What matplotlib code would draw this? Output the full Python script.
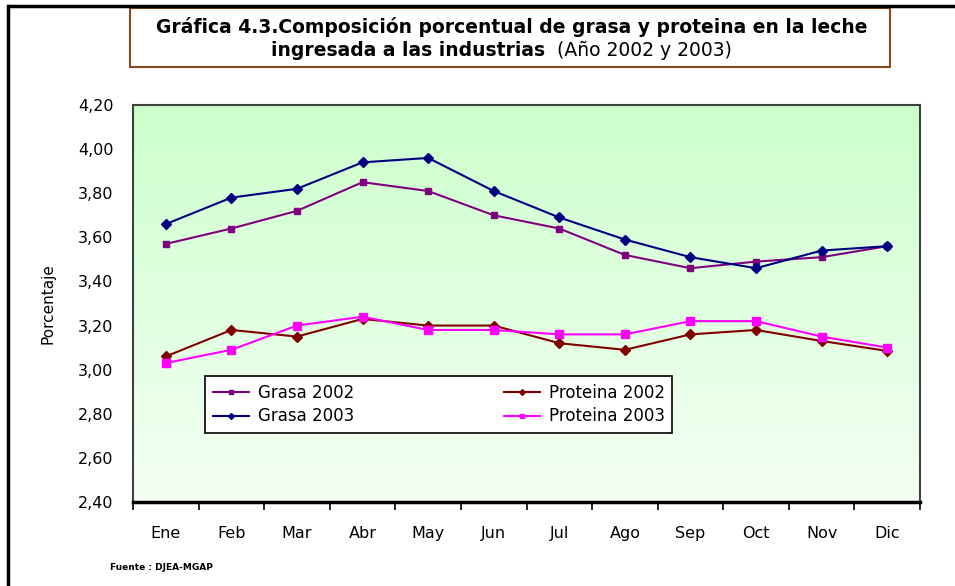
import matplotlib
matplotlib.use("Agg")
import matplotlib.pyplot as plt
import numpy as np
from matplotlib.patches import Rectangle
from matplotlib.lines import Line2D
from matplotlib.colors import LinearSegmentedColormap

months = ["Ene", "Feb", "Mar", "Abr", "May", "Jun", "Jul", "Ago", "Sep", "Oct", "Nov", "Dic"]
grasa_2002 = [3.57, 3.64, 3.72, 3.85, 3.81, 3.70, 3.64, 3.52, 3.46, 3.49, 3.51, 3.56]
grasa_2003 = [3.66, 3.78, 3.82, 3.94, 3.96, 3.81, 3.69, 3.59, 3.51, 3.46, 3.54, 3.56]
proteina_2002 = [3.06, 3.18, 3.15, 3.23, 3.20, 3.20, 3.12, 3.09, 3.16, 3.18, 3.13, 3.085]
proteina_2003 = [3.03, 3.09, 3.20, 3.24, 3.18, 3.18, 3.16, 3.16, 3.22, 3.22, 3.15, 3.10]
yticks = [2.40, 2.60, 2.80, 3.00, 3.20, 3.40, 3.60, 3.80, 4.00, 4.20]

W, H = 955, 586
fig = plt.figure(figsize=(W / 100, H / 100), dpi=100)
fig.patch.set_facecolor("white")

# outer frame lines (top and left)
fig.add_artist(Line2D([8 / W, 1.0], [1 - 6 / H, 1 - 6 / H], color="black", lw=2.5,
                      solid_capstyle="butt", transform=fig.transFigure))
fig.add_artist(Line2D([8 / W, 8 / W], [0.0, 1 - 6 / H], color="black", lw=2.5,
                      solid_capstyle="projecting", transform=fig.transFigure))

# title box
bx0, bx1, by0, by1 = 130, 890, 8, 67
fig.add_artist(Rectangle((bx0 / W, 1 - by1 / H), (bx1 - bx0) / W, (by1 - by0) / H,
                         transform=fig.transFigure, facecolor="white", edgecolor="#8B4A1C", lw=1.5))
fig.text(512 / W, 1 - 27 / H, "Gráfica 4.3.Composición porcentual de grasa y proteina en la leche",
         ha="center", va="center", fontsize=13.5, fontweight="bold")
fig.text(545 / W, 1 - 50 / H, "ingresada a las industrias",
         ha="right", va="center", fontsize=13.5, fontweight="bold")
fig.text(557 / W, 1 - 50 / H, "(Año 2002 y 2003)",
         ha="left", va="center", fontsize=13.5)

left, right, top, bottom = 133, 920, 105, 502
ax = fig.add_axes([left / W, 1 - bottom / H, (right - left) / W, (bottom - top) / H])

x = np.arange(len(months))
grad = np.linspace(0, 1, 256).reshape(-1, 1)
cmap = LinearSegmentedColormap.from_list("g", ["#F4FFF4", "#CCFFCC"])
ax.imshow(grad, extent=[0, 1, 0, 1], transform=ax.transAxes, cmap=cmap, origin="lower",
          aspect="auto", zorder=0)

ax.plot(x, grasa_2002, color="#800080", marker="s", ms=4, lw=1.5, label="Grasa 2002", zorder=3)
ax.plot(x, grasa_2003, color="#000080", marker="D", ms=5, lw=1.5, label="Grasa 2003", zorder=3)
ax.plot(x, proteina_2002, color="#800000", marker="D", ms=5, lw=1.5, label="Proteina 2002", zorder=3)
ax.plot(x, proteina_2003, color="#FF00FF", marker="s", ms=5.5, lw=1.5, label="Proteina 2003", zorder=3)

ax.set_xlim(-0.5, len(months) - 0.5)
ax.set_ylim(2.40, 4.20)
ax.set_yticks(yticks)
ax.set_yticklabels([f"{v:.2f}".replace(".", ",") for v in yticks], fontsize=11.5)
ax.tick_params(axis="y", length=0, pad=14)

ax.set_xticks(np.arange(-0.5, len(months), 1.0))
ax.set_xticklabels([])
ax.set_xticks(x, minor=True)
ax.set_xticklabels(months, minor=True, fontsize=11.5)
ax.tick_params(axis="x", which="major", direction="out", length=6, width=1.2, color="black")
ax.tick_params(axis="x", which="minor", length=0, pad=17)

for s in ["top", "right", "left"]:
    ax.spines[s].set_color("#404040")
    ax.spines[s].set_linewidth(1.5)
ax.spines["bottom"].set_color("black")
ax.spines["bottom"].set_linewidth(2.5)

ax.set_ylabel("Porcentaje", fontsize=11, labelpad=16)

handles, labels = ax.get_legend_handles_labels()
leg = ax.legend(handles, labels, ncol=2,
                loc="upper left",
                bbox_to_anchor=((205 - left) / (right - left), 1 - (376 - top) / (bottom - top)),
                borderaxespad=0,
                frameon=True, fancybox=False, edgecolor="black", framealpha=1, fontsize=12,
                markerscale=0.6, handlelength=2.2, handletextpad=0.5,
                columnspacing=9.0, borderpad=0.45, labelspacing=0.35)
leg.get_frame().set_linewidth(1.2)

fig.text(110 / W, 1 - 568 / H, "Fuente : DJEA-MGAP", fontsize=6.5, fontweight="bold", va="center")

fig.savefig("out.png", dpi=100)
